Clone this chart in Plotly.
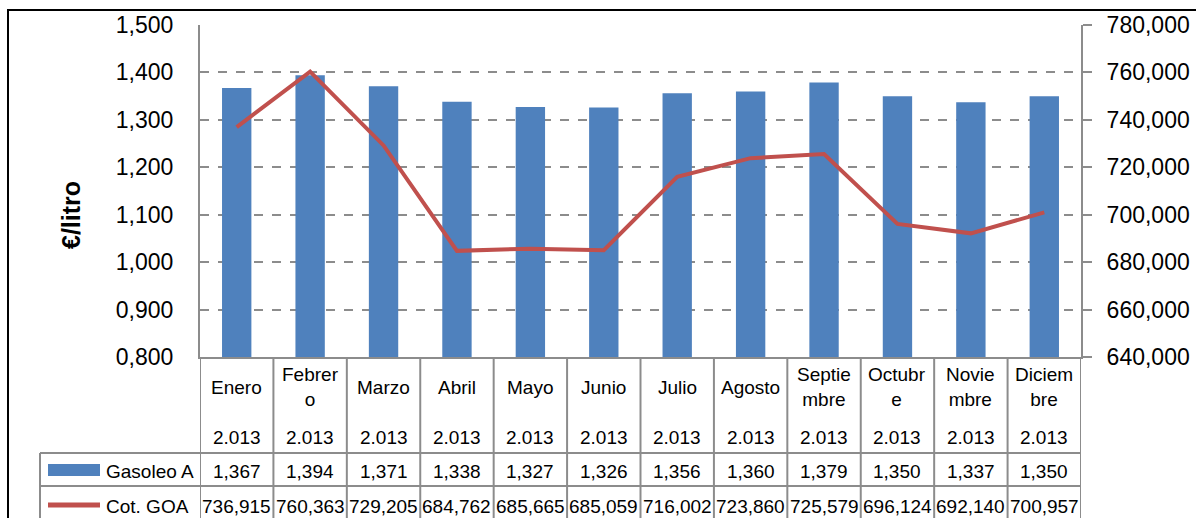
import plotly.graph_objects as go

# ---- data ----
month_labels = ["Enero", "Febrer<br>o", "Marzo", "Abril", "Mayo", "Junio", "Julio",
                "Agosto", "Septie<br>mbre", "Octubr<br>e", "Novie<br>mbre", "Diciem<br>bre"]
year_labels = ["2.013"] * 12
gasoleo_a = [1.367, 1.394, 1.371, 1.338, 1.327, 1.326, 1.356, 1.360, 1.379, 1.350, 1.337, 1.350]
cot_goa = [736.915, 760.363, 729.205, 684.762, 685.665, 685.059, 716.002, 723.860,
           725.579, 696.124, 692.140, 700.957]
series_names = ["Gasoleo A", "Cot. GOA"]

W, H = 1196, 518
def px(x):
    return x / W
def py(y):
    return 1 - y / H

BLUE = "#4F81BD"
RED = "#C0504D"
GRID = "#8C8C8C"
FONT = "Liberation Sans"

cats = list(range(len(month_labels)))

fig = go.Figure()
fig.add_trace(go.Bar(x=cats, y=gasoleo_a, marker=dict(color=BLUE, line=dict(width=0)),
                     width=0.4, name=series_names[0], yaxis="y"))
fig.add_trace(go.Scatter(x=cats, y=cot_goa, mode="lines", line=dict(color=RED, width=4),
                         name=series_names[1], yaxis="y2"))

shapes = []
annotations = []

# table vertical lines (column boundaries)
for k in range(len(cats) + 1):
    shapes.append(dict(type="line", xref="x", yref="paper", x0=k - 0.5, x1=k - 0.5,
                       y0=py(518 + 5), y1=py(357), line=dict(color=GRID, width=2)))
# left legend column line
shapes.append(dict(type="line", xref="paper", yref="paper", x0=px(40), x1=px(40),
                   y0=py(523), y1=py(453), line=dict(color=GRID, width=2)))
# horizontal table lines
for yy in (453, 486):
    shapes.append(dict(type="line", xref="paper", yref="paper", x0=px(40), x1=px(1081),
                       y0=py(yy), y1=py(yy), line=dict(color=GRID, width=2)))
# legend keys
shapes.append(dict(type="rect", xref="paper", yref="paper", x0=px(48), x1=px(100),
                   y0=py(476), y1=py(464), fillcolor=BLUE, line=dict(width=0)))
shapes.append(dict(type="line", xref="paper", yref="paper", x0=px(48), x1=px(100),
                   y0=py(505), y1=py(505), line=dict(color=RED, width=5)))
# outer chart border
shapes.append(dict(type="rect", xref="paper", yref="paper", x0=px(8), x1=1.05,
                   y0=-0.05, y1=py(10), line=dict(color="black", width=2), layer="below"))

tf = dict(family=FONT, size=19, color="black")
for i in cats:
    annotations.append(dict(x=i, y=py(387), xref="x", yref="paper", text=month_labels[i],
                            showarrow=False, font=tf, xanchor="center", yanchor="middle"))
    annotations.append(dict(x=i, y=py(437), xref="x", yref="paper", text=year_labels[i],
                            showarrow=False, font=tf, xanchor="center", yanchor="middle"))
    annotations.append(dict(x=i, y=py(471), xref="x", yref="paper",
                            text=f"{gasoleo_a[i]:.3f}".replace(".", ","),
                            showarrow=False, font=tf, xanchor="center", yanchor="middle"))
    annotations.append(dict(x=i, y=py(506), xref="x", yref="paper",
                            text=f"{cot_goa[i]:.3f}".replace(".", ","),
                            showarrow=False, font=tf, xanchor="center", yanchor="middle"))
annotations.append(dict(x=px(104), y=py(471), xref="paper", yref="paper", text=series_names[0],
                        showarrow=False, font=tf, xanchor="left", yanchor="middle"))
annotations.append(dict(x=px(104), y=py(506), xref="paper", yref="paper", text=series_names[1],
                        showarrow=False, font=tf, xanchor="left", yanchor="middle"))
annotations.append(dict(x=px(71), y=py(215), xref="paper", yref="paper", text="<b>€/litro</b>",
                        showarrow=False, textangle=-90,
                        font=dict(family=FONT, size=25, color="black"),
                        xanchor="center", yanchor="middle"))

fig.update_layout(
    width=W, height=H,
    margin=dict(l=0, r=0, t=0, b=0),
    paper_bgcolor="white", plot_bgcolor="white",
    separators=",.",
    showlegend=False,
    font=dict(family=FONT, size=19, color="black"),
    xaxis=dict(domain=[px(200), px(1081)], range=[-0.5, len(cats) - 0.5],
               showticklabels=False, showgrid=False, zeroline=False,
               showline=True, linecolor=GRID, linewidth=2, mirror=False, ticks=""),
    yaxis=dict(domain=[py(357), py(25)], range=[0.8, 1.5], dtick=0.1, tickformat=".3f",
               showgrid=True, gridcolor=GRID, griddash="dash", gridwidth=1.5,
               showline=True, linecolor=GRID, linewidth=2, zeroline=False,
               ticks="", ticklabelstandoff=20,
               tickfont=dict(family=FONT, size=23, color="black"), automargin=False),
    yaxis2=dict(overlaying="y", side="right", range=[640, 780], dtick=20,
                tickformat=".3f", showgrid=False, zeroline=False,
                showline=True, linecolor=GRID, linewidth=2,
                ticks="outside", ticklen=9, tickcolor=GRID, tickwidth=2,
                ticklabelstandoff=10,
                tickfont=dict(family=FONT, size=23, color="black"), automargin=False),
    shapes=shapes,
    annotations=annotations,
)

fig.write_html("out.html", config={"displayModeBar": False},
               post_script="document.body.style.margin='0';document.body.style.overflow='hidden';")
